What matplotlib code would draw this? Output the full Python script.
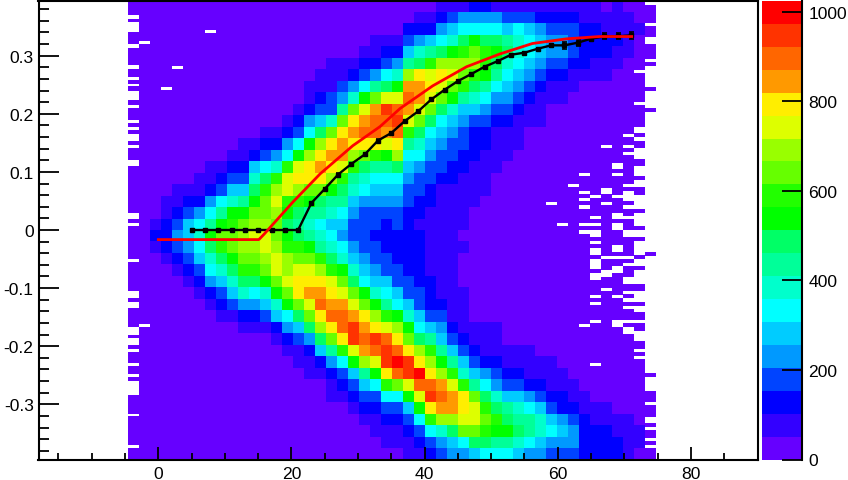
import numpy as np
import matplotlib
matplotlib.use("Agg")
import matplotlib.pyplot as plt
from matplotlib.colors import ListedColormap, BoundaryNorm
from matplotlib.ticker import MultipleLocator

plt.rcParams['font.family'] = ['Liberation Sans', 'DejaVu Sans']

palette = ['#6600ff', '#3300ff', '#0000ff', '#0044ff', '#0099ff', '#00ccff', '#00ffff', '#00ffcc',
           '#00ff99', '#00ff66', '#00ff00', '#22ff00', '#66ff00', '#99ff00', '#ddff00', '#ffee00',
           '#ff9900', '#ff6600', '#ff3300', '#ff0000']
z_max = 1024
n_rows = 40
n_cols = 48
y_limit = 0.395
x_first_edge = -4.5
x_last_edge = 74.8

# colour level (base 36) per histogram column, listed from the first row read, top to bottom
column_first_row = [0, 0, 19, 17, 16, 16, 15, 14, 14, 13, 12, 12, 11, 11, 10, 9, 7, 6, 5, 5, 5, 4, 3, 3,
                    3, 2, 1, 1, 0, 0, 0, 0, 0, 0, 0, 0, 0, 0, 0, 0, 0, 0, 0, 0, 0, 0, 0, 0]
column_levels = [
    "", "", "121", "112221", "11234321", "123554321", "11246765321", "112468a976421",
    "12368acb975321", "12357abcca97531", "112358acddcb97421", "12579acdedcb96421",
    "12369bccdeedca7531", "1247bdedccdeeca7521", "1246beeba9abddeca6421",
    "1236aefdb989bceffc95311", "11246adffca878acefgec94211", "112359dfgfc98678bdfghfd9521",
    "111337cfgfda875679befghfc84211",
    "11348cfggeb98654" "67aceghhfb6321",
    "1247cfgfdb87543" "34579cegiiea5321",
    "1236aeghfc976433" "33456acfghgd85321",
    "11248cghhfb865433" "233457adfihea63211",
    "12369eihgea865432" "2233568behiifb63211",
    "1247aehihfd965433" "2223356adfhjhc63211",
    "2358dghgeb" "86543322" "2222335" "7ac" "fiiea53211",
    "12479fggec9" "76433221" "2222233569" "dfjhea6321",
    "1258befec96" "54332211" "1111222358" "bdfhifb632",
    "12469dfec965" "43321111" "1111112345" "8adghgd743",
    "1357adeca754" "33221111" "1111111123" "58beggd954",
    "1469bdcb8543" "32211111" "0100011112" "357bffec64",
    "246acdb97532" "22111100" "0000000011" "2358ceec95",
    "2469bba86432" "21111000" "0000000011" "12469bcb96",
    "1469a9864321" "11100000" "0000000011" "123479ba86",
    "135897654321" "11000000" "0000000000" "1123589a86",
    "136776543211" "10000000" "0000000000" "1123578975",
    "135665432110" "00000000" "0000000000" "1112468864",
    "124554321110" "00000000" "0000000000" "0112357754",
    "123443211000" "00000000" "0000000000" "0111235643",
    "123443211000" "00000000" "0000000000" "0011224543",
    "123332110000" "00000000" "0000000000" "0001123443",
    "112222100000" "00000000" "0000000000" "0000112222",
    "112221100000" "00000000" "0000000000" "0000011222",
    "011221100000" "00000000" "0000000000" "0000011222",
    "111211000000" "00000000" "0000000000" "0000001122",
    "011110000000" "00000000" "0000000000" "0000001111",
    "001000000000" "00000000" "0000000000" "0000000110",
    "",
]

# bins with no entries: first column, last column, upper y, lower y
empty_bins = [
    (0, 0, .3695, .3638), (0, 0, .358, .341), (0, 0, .3207, .3138), (0, 0, .2833, .2776),
    (0, 0, .2632, .2586), (0, 0, .2517, .2471), (0, 0, .2385, .223), (0, 0, .2155, .2103),
    (0, 0, .1897, .1845), (0, 0, .1776, .1724), (0, 0, .1655, .154), (0, 0, .1471, .1414),
    (0, 0, .1213, .111), (0, 0, .0287, .019), (0, 0, .0121, .0063), (0, 0, -.050, -.0546),
    (0, 0, -.105, -.117), (0, 0, -.1236, -.135), (0, 0, -.167, -.18), (0, 0, -.186, -.198),
    (0, 0, -.205, -.2103), (0, 0, -.229, -.234), (0, 0, -.248, -.253), (0, 0, -.26, -.284),
    (0, 0, -.316, -.32), (0, 0, -.3707, -.3753),
    (1, 1, .3259, .3207), (1, 1, -.1621, -.1672), (3, 3, .2466, .2402), (4, 4, .2828, .2776),
    (7, 7, .3448, .3397),
    (46, 46, .2754, .2702), (46, 46, .2203, .2152),
    (46, 46, .1773, .1670), (45, 45, .1653, .1601), (46, 46, .1601, .1532), (43, 43, .1463, .1412),
    (45, 45, .1463, .1412), (46, 46, .1412, .1222), (45, 45, .1343, .1291), (44, 44, .1154, .1050),
    (46, 46, .1102, .0930), (41, 41, .0982, .0930), (44, 44, .0982, .0930), (46, 46, .0861, .0741),
    (45, 45, .0792, .0741), (40, 40, .0792, .0741), (43, 43, .0723, .0620), (41, 41, .0672, .0620),
    (45, 45, .0672, .0500), (46, 46, .0603, .0362), (42, 42, .0603, .0551), (44, 44, .0603, .0551),
    (41, 41, .0551, .0500), (38, 38, .0482, .0431), (43, 43, .0482, .0431), (45, 45, .0431, .0362),
    (41, 41, .0431, .0362), (44, 44, .0293, .0190), (45, 45, .0241, .0190), (46, 46, .0293, .0069),
    (42, 42, .0241, .0190), (39, 39, .0121, .0069), (41, 42, .0121, .0069), (44, 44, .0121, .0),
    (41, 42, .0, -.0069), (42, 42, -.0069, -.012), (45, 46, .0, -.012),
    (42, 42, -.0189, -.0241), (46, 46, -.0189, -.0430), (44, 44, -.0258, -.0379),
    (42, 42, -.0310, -.0430), (43, 45, -.0448, -.0499), (46, 46, -.0499, -.0620),
    (45, 45, -.0568, -.0620), (42, 42, -.0499, -.0671), (44, 44, -.0620, -.0740),
    (43, 43, -.0689, -.0809), (42, 42, -.0740, -.0861), (46, 46, -.0689, -.0930),
    (45, 45, -.0809, -.0930), (43, 43, -.0998, -.1050), (45, 46, -.1050, -.1102),
    (46, 46, -.1102, -.1170), (42, 42, -.1119, -.1170), (44, 44, -.1119, -.1170),
    (42, 42, -.1239, -.1291), (45, 46, -.1170, -.1239), (45, 46, -.1308, -.1360),
    (46, 46, -.1360, -.1411), (42, 42, -.1549, -.1601), (44, 44, -.1549, -.1670),
    (45, 46, -.1549, -.1601), (41, 41, -.1618, -.1670), (45, 45, -.1670, -.1790),
    (46, 46, -.1738, -.1911), (46, 46, -.2048, -.2100), (46, 46, -.2169, -.2220),
    (42, 42, -.2289, -.2340),
]

# the last column holds only these filled y ranges (upper, lower)
last_column_filled = [
    (.3873, .3563), (.3511, .3322), (.3201, .2943), (.2892, .2823), (.2461, .2393), (.2100, .2031),
    (-.0379, -.0448), (-.2461, -.2530), (-.2771, -.2960), (-.3012, -.3218), (-.3322, -.3390),
    (-.3442, -.3580), (-.3631, -.3700), (-.3752, -.395),
]

profile_x = [5, 7, 9, 11, 13, 15, 17, 19, 21, 23, 25, 27, 29, 31, 33, 35, 37, 39, 41, 43, 45, 47,
             49, 51, 53, 55, 57, 59, 61, 63, 65, 67, 69, 71]
profile_y = [0, 0, 0, 0, 0, 0, 0, 0, 0, .0466, .0707, .0954, .1138, .130, .154, .167, .1874, .204,
             .2247, .2414, .2563, .2684, .281, .2908, .3017, .3052, .312, .3178, .3178, .3224,
             .3293, .3333, .3333, .335]
profile_err = [.002, .002, .002, .002, .002, .002, .002, .002, .002, .002, .002, .002, .002, .002,
               .002, .002, .002, .002, .002, .002, .002, .002, .002, .002, .002, .002, .002, .003,
               .0063, .005, .003, .005, .005, .006]

fit_x = [0, 15.1, 15.9, 20.2, 24.3, 29.2, 33.3, 36.3, 41.2, 46.3, 51.3, 56.2, 61.3, 66.3, 71.1]
fit_y = [-.0165, -.0165, -.007, .048, .0966, .145, .178, .209, .248, .281, .303, .321, .329, .333, .333]

colorbar_ticks = [0, 200, 400, 600, 800, 1000]
y_ticks = [-.3, -.2, -.1, 0, .1, .2, .3]
y_tick_labels = ['-0.3', '-0.2', '-0.1', '0', '0.1', '0.2', '0.3']

W, H = 848, 481
fig = plt.figure(figsize=(W / 100, H / 100), dpi=100)
ax = fig.add_axes([38.5 / W, 1 - 460.5 / H, 719 / W, 459 / H])
cax = fig.add_axes([762 / W, 1 - 460.5 / H, 40 / W, 458.5 / H])

cmap = ListedColormap(palette)
cmap.set_bad('white')
edges = np.linspace(0, z_max, len(palette) + 1)
norm = BoundaryNorm(edges, cmap.N)
level_width = z_max / len(palette)

grid = np.zeros((n_rows, n_cols))
for col, (first, text) in enumerate(zip(column_first_row, column_levels)):
    for offset, ch in enumerate(text):
        if first + offset < n_rows:
            grid[first + offset, col] = int(ch, 36)
values = (grid + 0.5) * level_width
values = np.ma.masked_invalid(values)
values[:, n_cols - 1] = np.ma.masked

x_edges = np.linspace(x_first_edge, x_last_edge, n_cols + 1)
y_edges = np.linspace(y_limit, -y_limit, n_rows + 1)
ax.pcolormesh(x_edges, y_edges, values, cmap=cmap, norm=norm, antialiased=False, linewidth=0, zorder=1)

for c0, c1, hi, lo in empty_bins:
    ax.fill_between([x_edges[c0], x_edges[c1 + 1]], lo, hi, color='white', lw=0, antialiased=False, zorder=2)
for hi, lo in last_column_filled:
    ax.fill_between([x_edges[n_cols - 1], x_edges[n_cols]], lo, hi, color=palette[0], lw=0,
                    antialiased=False, zorder=2)

ax.errorbar(profile_x, profile_y, yerr=profile_err, color='black', lw=1.7, marker='s', ms=3,
            capsize=1.8, capthick=1.2, elinewidth=1.2, zorder=4)
ax.plot(fit_x, fit_y, color='#ff0000', lw=2.0, solid_joinstyle='round', zorder=5)

ax.set_xlim(-18, 90)
ax.set_ylim(-y_limit, y_limit)
ax.xaxis.set_major_locator(MultipleLocator(20))
ax.xaxis.set_minor_locator(MultipleLocator(5))
ax.set_yticks(y_ticks)
ax.set_yticklabels(y_tick_labels)
ax.yaxis.set_minor_locator(MultipleLocator(.02))
ax.tick_params(axis='x', which='major', direction='in', length=9.6, width=1.3, pad=5, labelsize=12.6)
ax.tick_params(axis='x', which='minor', direction='in', length=4.8, width=1.3)
ax.tick_params(axis='y', which='major', direction='in', length=14.4, width=1.3, pad=3.5, labelsize=12.6)
ax.tick_params(axis='y', which='minor', direction='in', length=7.2, width=1.3)
for side in ax.spines.values():
    side.set_linewidth(1.5)
    side.set_zorder(6)

colorbar_y = np.linspace(0, z_max, len(palette) + 1)
cax.pcolormesh([0, 1], colorbar_y, (colorbar_y[:-1, None] + level_width / 2), cmap=cmap, norm=norm,
               antialiased=False, linewidth=0)
cax.set_ylim(0, z_max)
cax.set_xticks([])
cax.yaxis.tick_right()
cax.set_yticks(colorbar_ticks)
cax.tick_params(axis='y', direction='in', length=14.4, width=1.3, pad=4.5, labelsize=12.6)
for name, side in cax.spines.items():
    side.set_visible(name == 'right')
    side.set_linewidth(1.5)

fig.savefig('out.png', dpi=100, facecolor='white')
